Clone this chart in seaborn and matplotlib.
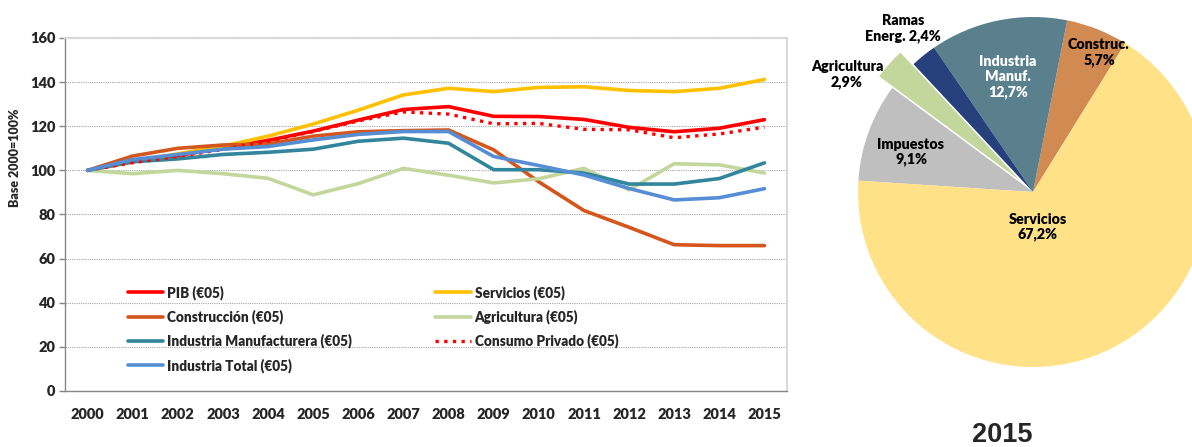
import numpy as np
import pandas as pd
import seaborn as sns
import matplotlib.pyplot as plt

# --- line chart data (index, base 2000 = 100) ---
years = list(range(2000, 2016))
pib = [100, 103.9, 106.7, 110.1, 113.6, 117.8, 122.8, 127.6, 128.9, 124.5, 124.4, 123.1, 119.5, 117.5, 119.1, 123.0]
servicios = [100, 104, 107.5, 111, 115.5, 121, 127.3, 134.2, 137.2, 135.7, 137.6, 137.9, 136.2, 135.7, 137.2, 141.2]
construccion = [100, 106.5, 110, 111.5, 112, 115.5, 117.5, 118.0, 118.3, 109.3, 94.8, 81.8, 74.2, 66.3, 65.9, 65.9]
agricultura = [100, 98.5, 100, 98.5, 96.4, 88.9, 94.0, 100.9, 97.8, 94.3, 96.2, 100.9, 91.2, 103.0, 102.5, 98.8]
ind_manuf = [100, 103.9, 105.2, 107.2, 108.2, 109.6, 113.2, 114.6, 112.3, 100.3, 100.3, 98.8, 93.8, 93.8, 96.3, 103.4]
ind_total = [100, 104.9, 107.2, 109.6, 110.8, 113.8, 116.3, 117.6, 117.6, 106.3, 102.2, 97.9, 91.8, 86.6, 87.6, 91.7]
consumo = [100, 103.5, 106.3, 109.5, 113.2, 117.6, 122.4, 126.5, 125.5, 121.1, 121.3, 118.6, 118.4, 114.8, 116.5, 119.6]

# --- pie data (2015 shares, %) ---
pie_labels = ["Construc.", "Industria\nManuf.", "Ramas\nEnerg.", "Agricultura", "Impuestos", "Servicios"]
pie_values = [5.7, 12.7, 2.4, 2.9, 9.1, 67.2]

sns.set_theme(style="white")
plt.rcParams['font.family'] = ['Lato', 'DejaVu Sans']
BOLD = "heavy"

fig = plt.figure(figsize=(11.92, 4.47), dpi=100)
W, H = 1192, 447

# line chart axes: plot area 65..787 x, 38..391 y (pixels)
ax = fig.add_axes([65 / W, (H - 391) / H, (787 - 65) / W, (391 - 38) / H])

series = [
    ("PIB (€05)", pib, "#FF0000", "-"),
    ("Servicios (€05)", servicios, "#FFC000", "-"),
    ("Construcción (€05)", construccion, "#D4561C", "-"),
    ("Agricultura (€05)", agricultura, "#C3D69B", "-"),
    ("Industria Manufacturera (€05)", ind_manuf, "#31859C", "-"),
    ("Consumo Privado (€05)", consumo, "#FF0000", (0, (1, 1.6))),
    ("Industria Total (€05)", ind_total, "#558ED5", "-"),
]
handles = {}
for name, vals, col, ls in series:
    df = pd.DataFrame({"year": years, "value": vals})
    sns.lineplot(data=df, x="year", y="value", ax=ax, color=col, lw=2.6 if ls == "-" else 2.4,
                 linestyle=ls, label=name, legend=False)
    handles[name] = ax.lines[-1]

ax.set_xlim(1999.5, 2015.5)
ax.set_ylim(0, 160)
ax.set_xlabel("")
ax.set_ylabel("")
ax.set_xticks(years)
ax.set_xticklabels([str(y) for y in years], fontweight=BOLD, fontsize=10.5)
ax.set_xticks(np.arange(1999.5, 2016, 1), minor=True)
ax.tick_params(axis="x", which="major", length=0, pad=12)
ax.tick_params(axis="x", which="minor", length=4, color="#868686", width=1, direction="out")
ax.set_yticks(range(0, 161, 20))
ax.set_yticklabels([str(v) for v in range(0, 161, 20)], fontweight=BOLD, fontsize=10.5)
ax.tick_params(axis="y", length=4, color="#868686", width=1, direction="out", pad=3, left=True)
ax.yaxis.grid(True, linestyle=(0, (1, 1)), color="#A6A6A6", lw=0.8)
ax.set_axisbelow(True)
for s in ["left", "bottom"]:
    ax.spines[s].set_color("#868686")
    ax.spines[s].set_linewidth(1)
for s in ["top", "right"]:
    ax.spines[s].set_color("#D9D9D9")
    ax.spines[s].set_linewidth(1.5)

order = ["PIB (€05)", "Construcción (€05)", "Industria Manufacturera (€05)", "Industria Total (€05)",
         "Servicios (€05)", "Agricultura (€05)", "Consumo Privado (€05)"]
ax.legend([handles[n] for n in order], order, ncol=2, frameon=False, loc="upper left",
          bbox_to_anchor=(0.07, 0.335), prop={"weight": BOLD, "size": 9.8},
          handlelength=2.6, handletextpad=0.3, columnspacing=6.1, labelspacing=0.72)

fig.text(15 / W, (H - 158) / H, "Base 2000=100%", rotation=90, ha="center", va="center",
         fontsize=9, fontweight=BOLD)

# pie axes: center (1033,192) px, radius 175 px
R = 175
lim = 1.2
size = 2 * lim * R
pax = fig.add_axes([(1033 - size / 2) / W, (H - 192 - size / 2) / H, size / W, size / H])
pie_colors = ["#D08A52", "#5A808D", "#25407A", "#C3D69B", "#BFBFBF", "#FFE188"]
explode = [0, 0, 0, 0.1, 0, 0]
wedges, _ = pax.pie(pie_values, colors=pie_colors, startangle=58.2, counterclock=True,
                    explode=explode, radius=1, wedgeprops={"linewidth": 0, "edgecolor": "white"})
for w in wedges:
    w.set_clip_on(False)
pax.set_xlim(-lim, lim)
pax.set_ylim(-lim, lim)
pax.axis("off")


def px(x, y):
    return (x - 1033) / R, (192 - y) / R


pie_text = [
    ("Ramas\nEnerg. 2,4%", 903, 28.5, "black"),
    ("Agricultura\n2,9%", 847, 74.5, "black"),
    ("Industria\nManuf.\n12,7%", 1008, 77, "white"),
    ("Construc.\n5,7%", 1099, 52.5, "black"),
    ("Impuestos\n9,1%", 911, 152, "black"),
    ("Servicios\n67,2%", 1038, 227, "black"),
]
for txt, x, y, col in pie_text:
    xx, yy = px(x, y)
    pax.text(xx, yy, txt, ha="center", va="center", color=col, fontsize=10.3,
             fontweight=BOLD, linespacing=1.2)

fig.text(1002 / W, (H - 435) / H, "2015", ha="center", va="center", fontsize=19.5,
         fontweight="bold", family=["Liberation Sans", "DejaVu Sans"])

fig.savefig("out.png", dpi=100)
